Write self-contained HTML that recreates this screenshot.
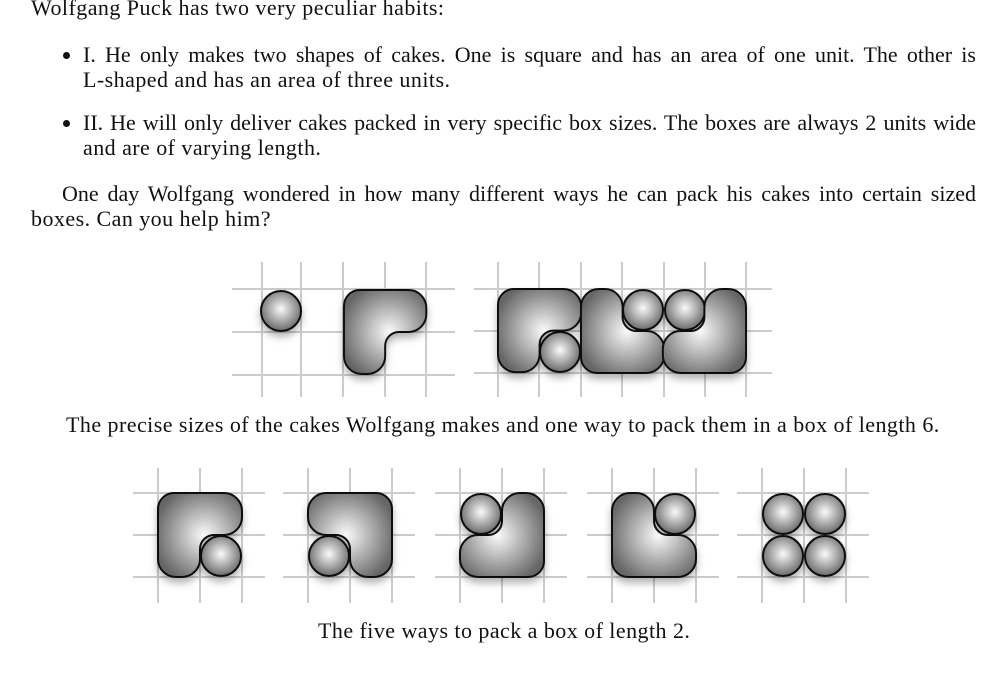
<!DOCTYPE html>
<html><head><meta charset="utf-8"><style>
body{margin:0;width:1006px;height:680px;background:#fff;position:relative;overflow:hidden;font-family:"Liberation Serif",serif;font-size:22px;letter-spacing:0.45px;color:#111}
.l{position:absolute;line-height:22px;white-space:nowrap}
.j{text-align:justify;text-align-last:justify;white-space:normal;letter-spacing:0}
.b{position:absolute;width:7px;height:7px;border-radius:50%;background:#111}
svg{position:absolute;left:0;top:0}
</style></head><body>
<div class="l" style="left:31px;top:-3px">Wolfgang Puck has two very peculiar habits:</div>
<div class="b" style="left:63px;top:52px"></div>
<div class="l j" style="left:83px;top:44px;width:893px">I. He only makes two shapes of cakes. One is square and has an area of one unit. The other is</div>
<div class="l" style="left:83px;top:69px">L-shaped and has an area of three units.</div>
<div class="b" style="left:63px;top:120px"></div>
<div class="l j" style="left:83px;top:112px;width:893px">II. He will only deliver cakes packed in very specific box sizes. The boxes are always 2 units wide</div>
<div class="l" style="left:83px;top:137px">and are of varying length.</div>
<div class="l j" style="left:62px;top:183px;width:914px">One day Wolfgang wondered in how many different ways he can pack his cakes into certain sized</div>
<div class="l" style="left:31px;top:208px">boxes. Can you help him?</div>
<div class="l" style="left:66px;top:414px">The precise sizes of the cakes Wolfgang makes and one way to pack them in a box of length 6.</div>
<div class="l" style="left:318px;top:620px">The five ways to pack a box of length 2.</div>
<svg width="1006" height="680" viewBox="0 0 1006 680">
<defs>
<radialGradient id="g" cx="0.55" cy="0.5" r="0.6"><stop offset="0" stop-color="#fafafa"/><stop offset="1" stop-color="#666"/></radialGradient>
<radialGradient id="gc" cx="0.5" cy="0.45" r="0.55"><stop offset="0" stop-color="#fafafa"/><stop offset="1" stop-color="#6a6a6a"/></radialGradient>
<filter id="sh" x="-30%" y="-30%" width="160%" height="170%"><feDropShadow dx="0" dy="5" stdDeviation="4" flood-color="#000" flood-opacity="0.3"/></filter>
<path id="L" d="M16,0 H66 A18,18 0 0 1 84,18 V24 A18,18 0 0 1 66,42 H56 A14,14 0 0 0 42,56 V66 A18,18 0 0 1 24,84 H18 A18,18 0 0 1 0,66 V16 A16,16 0 0 1 16,0 Z" fill="url(#g)" stroke="#111" stroke-width="2"/>
<circle id="C" cx="21" cy="21" r="20" fill="url(#gc)" stroke="#111" stroke-width="2"/>
</defs>
<g stroke="#ccc" stroke-width="2">
<path d="M262,262V397M301,262V397M343,262V397M385,262V397M426,262V397M232,289H455M232,332H455M232,375H455"/>
<path d="M498,262V397M539,262V397M581,262V397M622,262V397M664,262V397M705,262V397M746,262V397M474,289H772M474,331H772M474,373H772"/>
<path d="M158,468V603M200,468V603M242,468V603M133,493H265M133,535H265M133,577H265"/>
<path d="M308,468V603M350,468V603M392,468V603M283,493H415M283,535H415M283,577H415"/>
<path d="M460,468V603M502,468V603M544,468V603M435,493H567M435,535H567M435,577H567"/>
<path d="M612,468V603M654,468V603M696,468V603M587,493H719M587,535H719M587,577H719"/>
<path d="M762,468V603M804,468V603M846,468V603M737,493H869M737,535H869M737,577H869"/>
</g>
<g filter="url(#sh)">
<use href="#C" transform="translate(260,290)"/>
<use href="#L" transform="translate(344,290) scale(0.98,1)"/>
<use href="#L" transform="translate(498,289) scale(0.99,0.99)"/>
<use href="#C" transform="translate(539,331)"/>
<use href="#L" transform="translate(581,373) scale(0.99,-1)"/>
<use href="#C" transform="translate(622,289)"/>
<use href="#C" transform="translate(664,289)"/>
<use href="#L" transform="translate(746,373) rotate(180) scale(0.99,1)"/>
<use href="#L" transform="translate(158,493)"/>
<use href="#C" transform="translate(200,535)"/>
<use href="#L" transform="translate(392,493) scale(-1,1)"/>
<use href="#C" transform="translate(308,535)"/>
<use href="#C" transform="translate(460,493)"/>
<use href="#L" transform="translate(544,577) rotate(180)"/>
<use href="#L" transform="translate(612,577) scale(1,-1)"/>
<use href="#C" transform="translate(654,493)"/>
<use href="#C" transform="translate(762,493)"/>
<use href="#C" transform="translate(804,493)"/>
<use href="#C" transform="translate(762,535)"/>
<use href="#C" transform="translate(804,535)"/>
</g>
</svg>
</body></html>
